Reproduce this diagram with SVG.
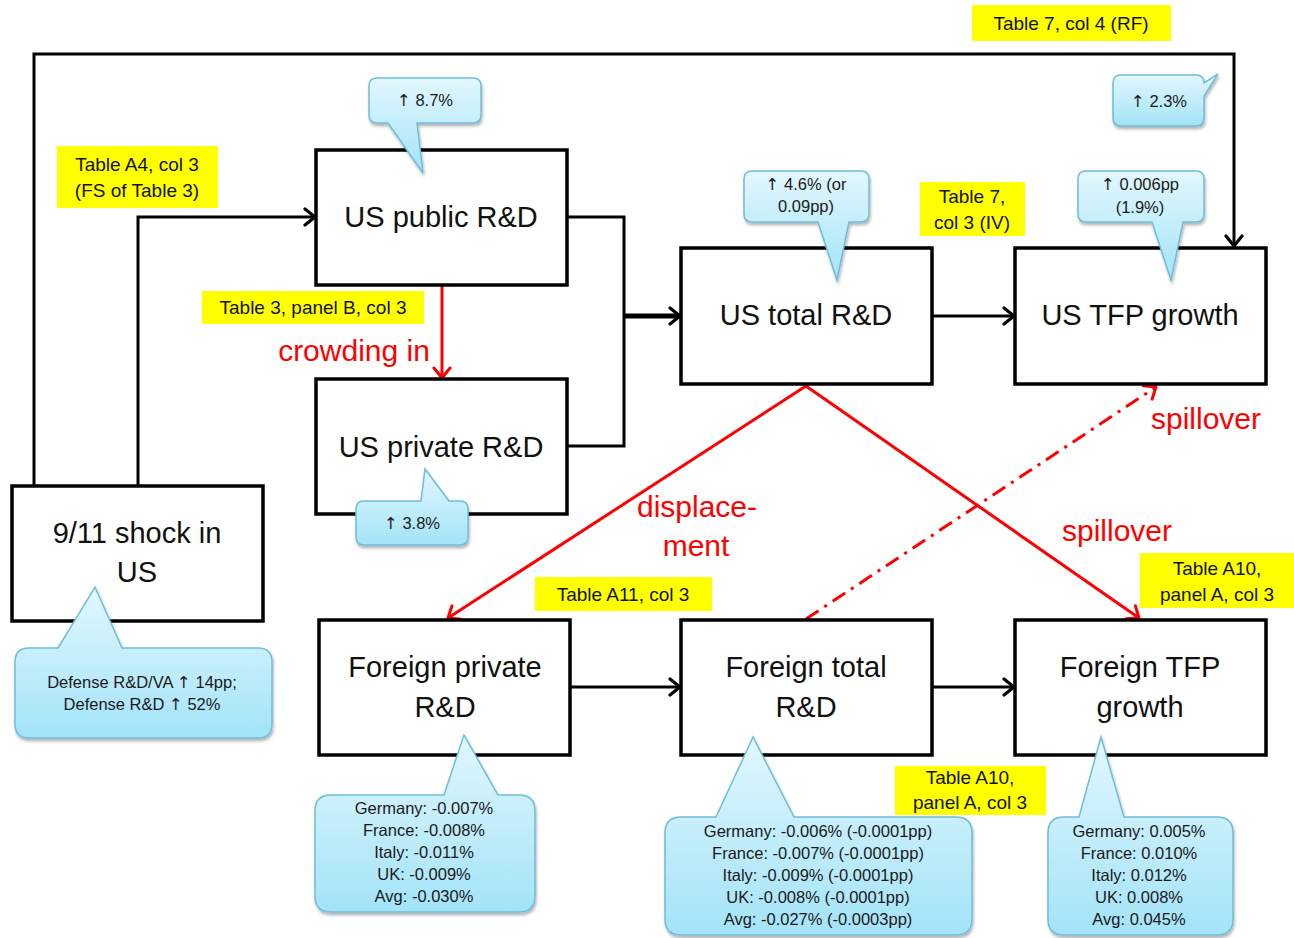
<svg xmlns="http://www.w3.org/2000/svg" width="1294" height="938" viewBox="0 0 1294 938">
<defs>
<style>
.box{fill:#fff;stroke:#000;stroke-width:3.5}
.bt{font-family:"Liberation Sans",Arial,sans-serif;font-size:29px;fill:#111;text-anchor:middle}
.red{font-family:"Liberation Sans",Arial,sans-serif;font-size:30px;fill:#ff0000;text-anchor:middle}
.yl{fill:#ffff00}
.yt{font-family:"Liberation Sans",Arial,sans-serif;font-size:19px;fill:#111;text-anchor:middle}
.co{fill:url(#cg);stroke:#6fbdd8;stroke-width:1.5;filter:url(#sh)}
.ct{font-family:"Liberation Sans",Arial,sans-serif;font-size:16.5px;fill:#1a1a1a;text-anchor:middle}
.up{font-family:"DejaVu Sans",sans-serif}
.bl{fill:none;stroke:#000;stroke-width:3;stroke-linejoin:miter}
.rl{fill:none;stroke:#ff0000;stroke-width:3}
</style>
<linearGradient id="cg" x1="0" y1="0" x2="0" y2="1">
<stop offset="0" stop-color="#e2f7fd"/>
<stop offset="1" stop-color="#a3e3f8"/>
</linearGradient>
<filter id="sh" x="-10%" y="-10%" width="125%" height="130%">
<feDropShadow dx="1" dy="2.5" stdDeviation="1.5" flood-color="#000" flood-opacity="0.3"/>
</filter>
<marker id="ab" viewBox="0 0 14 20" refX="12" refY="10" markerWidth="14" markerHeight="20" markerUnits="userSpaceOnUse" orient="auto">
<path d="M2,2 L12,10 L2,18" fill="none" stroke="#000" stroke-width="3.2" stroke-linecap="round" stroke-linejoin="round"/>
</marker>
<marker id="ar" viewBox="0 0 14 20" refX="12" refY="10" markerWidth="14" markerHeight="20" markerUnits="userSpaceOnUse" orient="auto">
<path d="M2,2 L12,10 L2,18" fill="none" stroke="#ff0000" stroke-width="3" stroke-linecap="round" stroke-linejoin="round"/>
</marker>
</defs>
<rect width="1294" height="938" fill="#fff"/>

<g id="connectors">
<polyline class="bl" points="34,486 34,54 1234,54 1234,246" marker-end="url(#ab)"/>
<polyline class="bl" points="138,486 138,217 315,217" marker-end="url(#ab)"/>
<polyline class="bl" points="567,217 624,217 624,446 567,446"/>
<line class="bl" x1="624" y1="316" x2="680" y2="316" style="stroke-width:5" marker-end="url(#ab)"/>
<line class="bl" x1="932" y1="316" x2="1014" y2="316" marker-end="url(#ab)"/>
<line class="bl" x1="570" y1="687" x2="680" y2="687" marker-end="url(#ab)"/>
<line class="bl" x1="932" y1="687" x2="1014" y2="687" marker-end="url(#ab)"/>
<line class="rl" x1="442" y1="286" x2="442" y2="378" marker-end="url(#ar)"/>
<line class="rl" x1="806" y1="386" x2="448" y2="618" marker-end="url(#ar)"/>
<line class="rl" x1="806" y1="386" x2="1139" y2="618" marker-end="url(#ar)"/>
<line class="rl" x1="806" y1="619" x2="1156" y2="387" style="stroke-dasharray:15 7 3 7" marker-end="url(#ar)"/>
</g>

<g id="shock">
<rect class="box" x="12" y="486" width="251" height="135"/>
<text class="bt" x="137" y="543">9/11 shock in</text>
<text class="bt" x="137" y="582">US</text>
</g>
<g id="us-public">
<rect class="box" x="316" y="150" width="251" height="135"/>
<text class="bt" x="441" y="227">US public R&amp;D</text>
</g>
<g id="us-private">
<rect class="box" x="316" y="379" width="251" height="135"/>
<text class="bt" x="441" y="457">US private R&amp;D</text>
</g>
<g id="us-total">
<rect class="box" x="681" y="248" width="251" height="136"/>
<text class="bt" x="806" y="325">US total R&amp;D</text>
</g>
<g id="us-tfp">
<rect class="box" x="1015" y="248" width="251" height="136"/>
<text class="bt" x="1140" y="325">US TFP growth</text>
</g>
<g id="foreign-private">
<rect class="box" x="319" y="620" width="251" height="135"/>
<text class="bt" x="445" y="677">Foreign private</text>
<text class="bt" x="445" y="717">R&amp;D</text>
</g>
<g id="foreign-total">
<rect class="box" x="681" y="620" width="251" height="135"/>
<text class="bt" x="806" y="677">Foreign total</text>
<text class="bt" x="806" y="717">R&amp;D</text>
</g>
<g id="foreign-tfp">
<rect class="box" x="1015" y="620" width="251" height="135"/>
<text class="bt" x="1140" y="677">Foreign TFP</text>
<text class="bt" x="1140" y="717">growth</text>
</g>

<g id="callout-public">
<path class="co" d="M377,78 H473 Q481,78 481,86 V115 Q481,123 473,123 H417 L423,173 L388,123 H377 Q369,123 369,115 V86 Q369,78 377,78 Z"/>
<text class="ct" x="425" y="106"><tspan class="up">↑</tspan> 8.7%</text>
</g>
<g id="callout-rf">
<path class="co" d="M1121,75 H1196 Q1204,75 1204,83 L1218,74 L1204,96 V118 Q1204,126 1196,126 H1121 Q1113,126 1113,118 V83 Q1113,75 1121,75 Z"/>
<text class="ct" x="1159" y="107"><tspan class="up">↑</tspan> 2.3%</text>
</g>
<g id="callout-total">
<path class="co" d="M752,171 H861 Q869,171 869,179 V214 Q869,222 861,222 H849 L837,280 L818,222 H752 Q744,222 744,214 V179 Q744,171 752,171 Z"/>
<text class="ct" x="806" y="190"><tspan class="up">↑</tspan> 4.6% (or</text>
<text class="ct" x="806" y="212">0.09pp)</text>
</g>
<g id="callout-tfp">
<path class="co" d="M1086,171 H1196 Q1204,171 1204,179 V214 Q1204,222 1196,222 H1183 L1171,280 L1152,222 H1086 Q1078,222 1078,214 V179 Q1078,171 1086,171 Z"/>
<text class="ct" x="1140" y="190"><tspan class="up">↑</tspan> 0.006pp</text>
<text class="ct" x="1140" y="213">(1.9%)</text>
</g>
<g id="callout-private">
<path class="co" d="M364,501 H421 L425,469 L449,501 H460 Q468,501 468,509 V537 Q468,545 460,545 H364 Q356,545 356,537 V509 Q356,501 364,501 Z"/>
<text class="ct" x="412" y="529"><tspan class="up">↑</tspan> 3.8%</text>
</g>
<g id="callout-shock">
<path class="co" d="M29,648 H58 L95,587 L122,648 H258 Q272,648 272,662 V724 Q272,738 258,738 H29 Q15,738 15,724 V662 Q15,648 29,648 Z"/>
<text class="ct" x="142" y="688">Defense R&amp;D/VA <tspan class="up">↑</tspan> 14pp;</text>
<text class="ct" x="142" y="710">Defense R&amp;D <tspan class="up">↑</tspan> 52%</text>
</g>
<g id="callout-fpriv">
<path class="co" d="M331,795 H444 L464,735 L498,795 H519 Q535,795 535,811 V896 Q535,912 519,912 H331 Q315,912 315,896 V811 Q315,795 331,795 Z"/>
<text class="ct" x="424" y="814">Germany: -0.007%</text>
<text class="ct" x="424" y="836">France: -0.008%</text>
<text class="ct" x="424" y="858">Italy: -0.011%</text>
<text class="ct" x="424" y="880">UK: -0.009%</text>
<text class="ct" x="424" y="902">Avg: -0.030%</text>
</g>
<g id="callout-ftotal">
<path class="co" d="M681,817 H716 L753,737 L794,817 H956 Q972,817 972,833 V919 Q972,935 956,935 H681 Q665,935 665,919 V833 Q665,817 681,817 Z"/>
<text class="ct" x="818" y="837">Germany: -0.006% (-0.0001pp)</text>
<text class="ct" x="818" y="859">France: -0.007% (-0.0001pp)</text>
<text class="ct" x="818" y="881">Italy: -0.009% (-0.0001pp)</text>
<text class="ct" x="818" y="903">UK: -0.008% (-0.0001pp)</text>
<text class="ct" x="818" y="925">Avg: -0.027% (-0.0003pp)</text>
</g>
<g id="callout-ftfp">
<path class="co" d="M1064,817 H1079 L1101,737 L1124,817 H1217 Q1233,817 1233,833 V919 Q1233,935 1217,935 H1064 Q1048,935 1048,919 V833 Q1048,817 1064,817 Z"/>
<text class="ct" x="1139" y="837">Germany: 0.005%</text>
<text class="ct" x="1139" y="859">France: 0.010%</text>
<text class="ct" x="1139" y="881">Italy: 0.012%</text>
<text class="ct" x="1139" y="903">UK: 0.008%</text>
<text class="ct" x="1139" y="925">Avg: 0.045%</text>
</g>

<g id="edge-labels">
<text class="red" x="354" y="361">crowding in</text>
<text class="red" x="697" y="517">displace-</text>
<text class="red" x="696" y="556">ment</text>
<text class="red" x="1206" y="429">spillover</text>
<text class="red" x="1117" y="541">spillover</text>
</g>

<g id="table-labels">
<rect class="yl" x="972" y="5" width="199" height="36"/>
<text class="yt" x="1071" y="30">Table 7, col 4 (RF)</text>
<rect class="yl" x="57" y="146" width="161" height="62"/>
<text class="yt" x="137" y="171">Table A4, col 3</text>
<text class="yt" x="137" y="197">(FS of Table 3)</text>
<rect class="yl" x="202" y="291" width="222" height="33"/>
<text class="yt" x="313" y="314">Table 3, panel B, col 3</text>
<rect class="yl" x="920" y="182" width="105" height="54"/>
<text class="yt" x="972" y="203">Table 7,</text>
<text class="yt" x="972" y="229">col 3 (IV)</text>
<rect class="yl" x="535" y="577" width="177" height="34"/>
<text class="yt" x="623" y="601">Table A11, col 3</text>
<rect class="yl" x="1140" y="553" width="154" height="55"/>
<text class="yt" x="1217" y="575">Table A10,</text>
<text class="yt" x="1217" y="601">panel A, col 3</text>
<rect class="yl" x="895" y="766" width="151" height="49"/>
<text class="yt" x="970" y="784">Table A10,</text>
<text class="yt" x="970" y="809">panel A, col 3</text>
</g>
</svg>
